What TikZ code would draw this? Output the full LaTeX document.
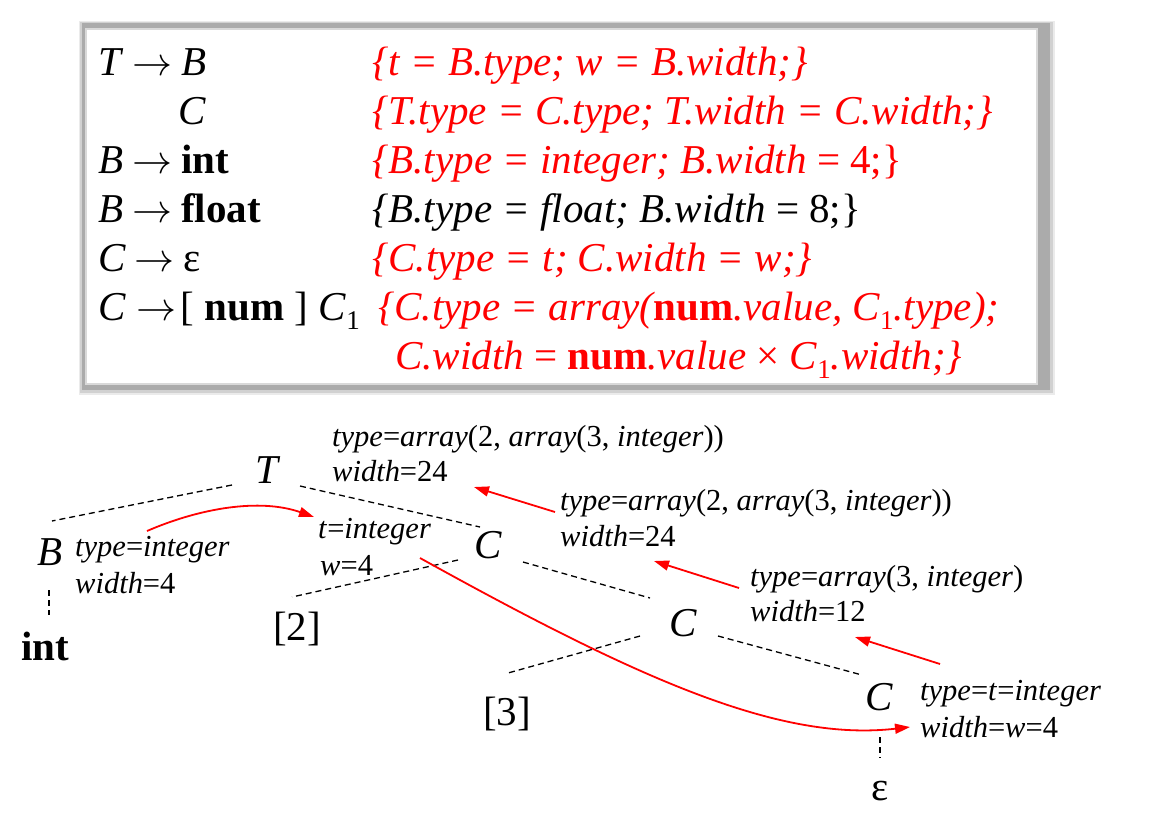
\documentclass[tikz,border=0pt]{standalone}
\usepackage{graphicx}
\usepackage{fontspec}
\setmainfont{Liberation Serif}
\usetikzlibrary{arrows.meta,calc}
\newcommand\lowidx[1]{\raisebox{-0.22em}{\upshape\fontsize{27}{27}\selectfont #1}}
\newcommand\itx[1]{\textit{#1}}
\newcommand\bigarr{\scalebox{4}{\fontsize{10}{12}\selectfont$\rightarrow$}}
\newcommand\rarr{\hspace{9pt}\bigarr\hspace{9pt}}
\newcommand\rarrn{\hspace{11pt}\bigarr\hspace{4pt}}
\tikzset{
  boxtxt/.style={anchor=base west, inner sep=0pt, font=\fontsize{41}{49}\selectfont},
  redtxt/.style={boxtxt, text=red, font=\fontsize{41}{49}\selectfont\itshape},
  blktxt/.style={boxtxt, font=\fontsize{41}{49}\selectfont\itshape},
  tlet/.style={anchor=base, inner sep=0pt, font=\fontsize{41}{49}\selectfont\itshape},
  tsym/.style={anchor=base, inner sep=0pt, font=\fontsize{41}{49}\selectfont},
  lbl/.style={anchor=base west, inner sep=0pt, font=\fontsize{30.5}{35}\selectfont},
  dl/.style={black, line width=1.3pt, dash pattern=on 6pt off 4pt},
  ra/.style={red, line width=1.8pt, -{Triangle[length=15pt,width=10pt]}},
}
\begin{document}
\begin{tikzpicture}[x=1pt,y=-1pt]
\useasboundingbox (0,0) rectangle (1155,828);
% box with shadow frame
\fill[black!8] (79,21) rectangle (1055,395);
\fill[black!18] (80,22) rectangle (1053,393);
\fill[black!33] (82,23) rectangle (1050,390);
\filldraw[fill=white, draw=black!15, line width=1.5pt] (86,29) rectangle (1037,384);
% left column
\node[boxtxt] (l1) at (98,75) {\itx{T}\rarr\itx{B}};
\node[boxtxt] (l2) at (178,124) {\itx{C}};
\node[boxtxt] (l3) at (98,173) {\itx{B}\rarr\textbf{int}};
\node[boxtxt] (l4) at (98,222) {\itx{B}\rarr\textbf{float}};
\node[boxtxt] (l5) at (98,271) {\itx{C}\rarr ε};
\node[boxtxt] (l6) at (98,320) {\itx{C}\rarrn[ \textbf{num} ] \itx{C}\lowidx{1}};
% right column
\node[redtxt] (r1) at (372,75) {\{t = B.type; w = B.width;\}};
\node[redtxt] (r2) at (372,124) {\{T.type = C.type; T.width = C.width;\}};
\node[redtxt] (r3) at (372,173) {\{B.type = integer; B.width \upshape= 4;\}};
\node[blktxt] (r4) at (372,222) {\{B.type = float; B.width \upshape= 8;\}};
\node[redtxt] (r5) at (372,271) {\{C.type = t; C.width = w;\}};
\node[redtxt] (r6) at (378,320) {\{C.type = array(\textbf{\upshape num}.value, C\lowidx{1}.type);};
\node[redtxt] (r7) at (395,369) {C.width {\upshape=} \textbf{\upshape num}.value {\upshape ×} C\lowidx{1}.width;\}};
% tree nodes
\node[tlet] (T) at (267,483) {T};
\node[tlet] (B) at (50,565) {B};
\node[tsym] (int) at (45,660) {\textbf{int}};
\node[tlet] (C1) at (488,558) {C};
\node[tsym] (n2) at (297,640) {[2]};
\node[tlet] (C2) at (683,636) {C};
\node[tsym] (n3) at (507,725) {[3]};
\node[tlet] (C3) at (879,710) {C};
\node[tsym] (eps) at (880,800) {ε};
% labels
\node[lbl] (Ttype) at (332,446) {\itx{type}=\itx{array}(2, \itx{array}(3, \itx{integer}))};
\node[lbl] (Twidth) at (332,481) {\itx{width}=24};
\node[lbl] (Btype) at (75,556) {\itx{type}=\itx{integer}};
\node[lbl] (Bwidth) at (75,593) {\itx{width}=4};
\node[lbl] (C1t) at (318,538) {\itx{t}=\itx{integer}};
\node[lbl] (C1w) at (320,575) {\itx{w}=4};
\node[lbl] (C1type) at (560,510) {\itx{type}=\itx{array}(2, \itx{array}(3, \itx{integer}))};
\node[lbl] (C1width) at (560,546) {\itx{width}=24};
\node[lbl] (C2type) at (750,586) {\itx{type}=\itx{array}(3, \itx{integer})};
\node[lbl] (C2width) at (750,621) {\itx{width}=12};
\node[lbl] (C3type) at (920,700) {\itx{type}=\itx{t}=\itx{integer}};
\node[lbl] (C3width) at (920,737) {\itx{width}=\itx{w}=4};
% dashed tree edges
\draw[dl] ($(T.base)+(-35,2)$) -- ($(B.base)+(2,-44)$);
\draw[dl] ($(T.base)+(33,3)$) -- ($(C1.base)+(-8,-31)$);
\draw[dl] ($(B.base)+(-1,25)$) -- ($(int.base)+(4,-45)$);
\draw[dl] ($(C1.base)+(-30,2)$) -- ($(n2.base)+(-5,-43)$);
\draw[dl] ($(C1.base)+(35,4)$) -- ($(C2.base)+(-33,-38)$);
\draw[dl] ($(C2.base)+(-43,0)$) -- ($(n3.base)+(1,-52)$);
\draw[dl] ($(C2.base)+(35,0)$) -- ($(C3.base)+(-17,-35)$);
\draw[dl] ($(C3.base)+(1,27)$) -- ($(eps.base)+(0,-42)$);
% red arrows
\draw[ra] ($(Btype.base west)+(72,-25)$) .. controls +(53,-23) and +(-54,-19) .. ($(C1t.base west)+(-4,-21)$);
\draw[ra] ($(C1t.base west)+(102,20)$) .. controls +(220,122) and +(-130,15) .. ($(C3width.base west)+(-10,-10)$);
\draw[ra] ($(C1type.base west)+(-5,2)$) -- ($(Twidth.base west)+(142,6)$);
\draw[ra] ($(C2type.base west)+(-11,2)$) -- ($(C1width.base west)+(94,15)$);
\draw[ra] ($(C3type.base west)+(20,-36)$) -- ($(C2width.base west)+(105,16)$);
\end{tikzpicture}
\end{document}
